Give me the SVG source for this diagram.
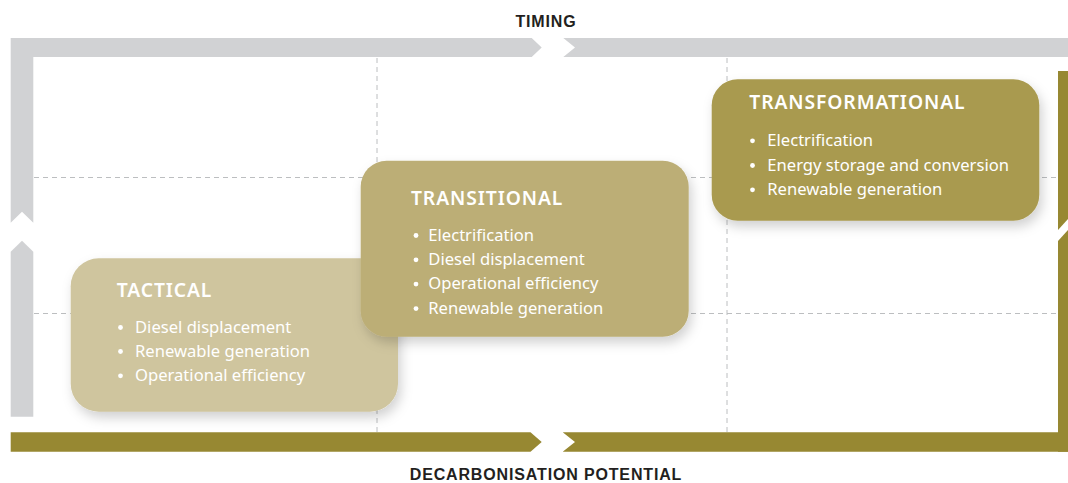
<svg xmlns="http://www.w3.org/2000/svg" width="1068" height="483" viewBox="0 0 1068 483">
<defs>
<style>
.axis{font-family:"Liberation Sans",Arial,sans-serif;font-weight:bold;font-size:16px;letter-spacing:0.85px;fill:#231f20;text-anchor:middle}
.grid{stroke:#bcbec0;stroke-width:1;stroke-dasharray:5 4;fill:none}
.gray{fill:#d1d2d4}
.olive{fill:#978832}
.title{font-family:"Noto Sans","Liberation Sans",sans-serif;font-weight:600;font-size:19.3px;fill:#ffffff;letter-spacing:0.9px}
.item{font-family:"Noto Sans","Liberation Sans",sans-serif;font-size:16.6px;fill:#ffffff}
.dot{fill:#ffffff}
</style>
<filter id="shadow" x="-10%" y="-10%" width="125%" height="135%">
<feDropShadow dx="3" dy="6" stdDeviation="6" flood-color="#000000" flood-opacity="0.18"/>
</filter>
</defs>
<rect width="1068" height="483" fill="#ffffff"/>
<g id="grid">
<line class="grid" x1="377" y1="58" x2="377" y2="432"/>
<line class="grid" x1="727" y1="58" x2="727" y2="432"/>
<line class="grid" x1="34" y1="177.5" x2="1058" y2="177.5"/>
<line class="grid" x1="34" y1="313.5" x2="1058" y2="313.5"/>
</g>
<g id="connectors">
<polygon class="gray" points="10.7,38 531.7,38 541.7,47.5 531.7,57 33.3,57 33.3,222.7 22,211.7 10.7,222.7"/>
<polygon class="gray" points="563.3,38 1068,38 1068,57 563.3,57 575,47.5"/>
<polygon class="gray" points="10.7,251.7 22,240.7 33.3,251.7 33.3,416.7 10.7,416.7"/>
<polygon class="olive" points="10.7,432.3 530.5,432.3 541.7,442 530.5,451.7 10.7,451.7"/>
<polygon class="olive" points="562.7,432.3 1068,432.3 1068,451.7 562.7,451.7 575,442"/>
<polygon class="olive" points="1058,71 1068,71 1068,219 1058,230"/>
<polygon class="olive" points="1058,241 1068,230 1068,451.7 1058,451.7"/>
</g>
<text class="axis" x="546" y="27.3">TIMING</text>
<text class="axis" x="546" y="480">DECARBONISATION POTENTIAL</text>
<g id="tactical">
<rect x="70.7" y="258.3" width="327.3" height="153.4" rx="28" fill="#cfc59e" filter="url(#shadow)"/>
<text class="title" x="116.7" y="296.7">TACTICAL</text>
<circle class="dot" cx="120.5" cy="327.5" r="2.4"/>
<circle class="dot" cx="120.5" cy="351.5" r="2.4"/>
<circle class="dot" cx="120.5" cy="375.8" r="2.4"/>
<text class="item" x="135" y="332.7">Diesel displacement</text>
<text class="item" x="135" y="356.9">Renewable generation</text>
<text class="item" x="135" y="381.1">Operational efficiency</text>
</g>
<g id="transitional">
<rect x="360.7" y="160.7" width="328" height="176" rx="26" fill="#bcae76" filter="url(#shadow)"/>
<text class="title" x="411" y="205">TRANSITIONAL</text>
<circle class="dot" cx="416" cy="235.5" r="2.4"/>
<circle class="dot" cx="416" cy="259.8" r="2.4"/>
<circle class="dot" cx="416" cy="284.1" r="2.4"/>
<circle class="dot" cx="416" cy="308.6" r="2.4"/>
<text class="item" x="428.3" y="240.7">Electrification</text>
<text class="item" x="428.3" y="265">Diesel displacement</text>
<text class="item" x="428.3" y="289.3">Operational efficiency</text>
<text class="item" x="428.3" y="313.8">Renewable generation</text>
</g>
<g id="transformational">
<rect x="711.7" y="79.3" width="327.6" height="141.4" rx="26" fill="#a99a4f" filter="url(#shadow)"/>
<text class="title" x="749.3" y="109.3">TRANSFORMATIONAL</text>
<circle class="dot" cx="752.5" cy="140.8" r="2.4"/>
<circle class="dot" cx="752.5" cy="165.5" r="2.4"/>
<circle class="dot" cx="752.5" cy="189.8" r="2.4"/>
<text class="item" x="767.3" y="146">Electrification</text>
<text class="item" x="767.3" y="170.7">Energy storage and conversion</text>
<text class="item" x="767.3" y="195">Renewable generation</text>
</g>
</svg>
